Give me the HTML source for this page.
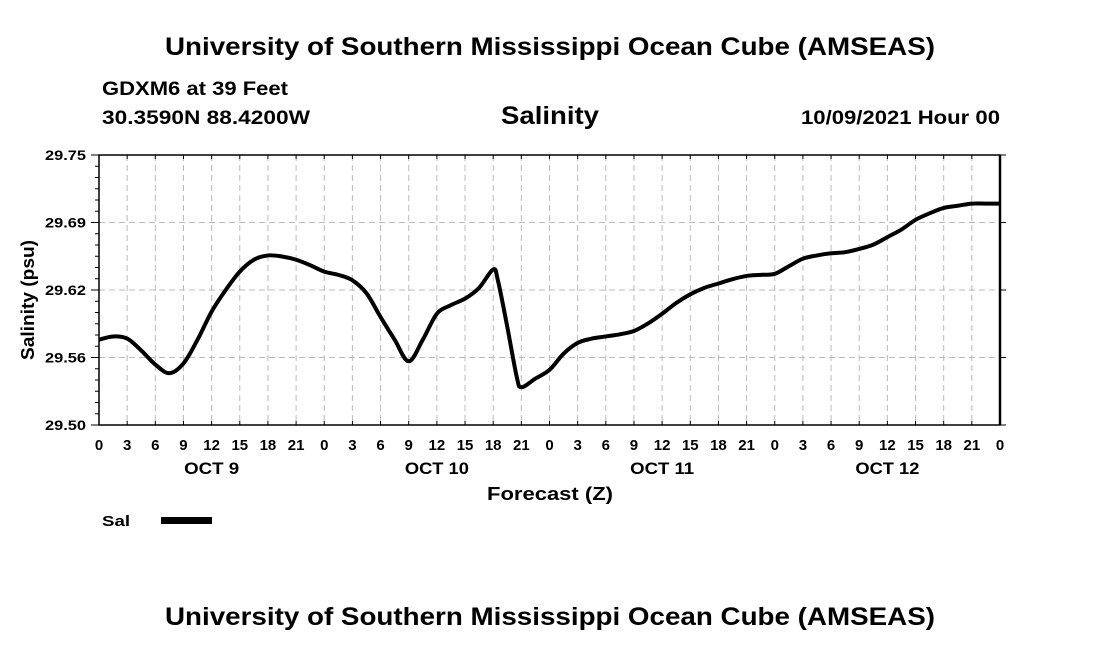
<!DOCTYPE html>
<html><head><meta charset="utf-8"><style>
html,body{margin:0;padding:0;background:#fff;}
svg{display:block;font-family:"Liberation Sans",Arial,sans-serif;font-weight:bold;}
</style></head><body>
<svg id="chart" width="1100" height="650" viewBox="0 0 1100 650">
<text x="550" y="55" font-size="25" text-anchor="middle" textLength="770" lengthAdjust="spacingAndGlyphs">University of Southern Mississippi Ocean Cube (AMSEAS)</text>
<text x="102" y="95" font-size="19" textLength="186" lengthAdjust="spacingAndGlyphs">GDXM6 at 39 Feet</text>
<text x="102" y="124" font-size="19" textLength="208" lengthAdjust="spacingAndGlyphs">30.3590N  88.4200W</text>
<text x="550" y="124" font-size="25" text-anchor="middle" textLength="98" lengthAdjust="spacingAndGlyphs">Salinity</text>
<text x="1000" y="124" font-size="19" text-anchor="end" textLength="199" lengthAdjust="spacingAndGlyphs">10/09/2021 Hour 00</text>
<g id="grid"></g>
<g id="axes"></g>
<path id="line" fill="none" stroke="#000" stroke-width="4" stroke-linejoin="round"></path>
<text x="550" y="500" font-size="18" text-anchor="middle" textLength="126" lengthAdjust="spacingAndGlyphs">Forecast (Z)</text>
<text transform="translate(34,300) rotate(-90)" font-size="18" text-anchor="middle" textLength="120" lengthAdjust="spacingAndGlyphs">Salinity (psu)</text>
<text x="102" y="526" font-size="15" textLength="28" lengthAdjust="spacingAndGlyphs">Sal</text>
<rect x="161" y="517" width="51" height="7" fill="#000"></rect>
<text x="550" y="625" font-size="25" text-anchor="middle" textLength="770" lengthAdjust="spacingAndGlyphs">University of Southern Mississippi Ocean Cube (AMSEAS)</text>
</svg>
<script>
const hours = [0,1.5,3,4.5,6,7.5,9,10.5,12,13.5,15,16.5,18,19.5,21,22.5,24,25.5,27,28.5,30,31.5,33,34.5,36,37.5,39,40.5,42,42.5,43.5,44.5,45,46.5,48,49.5,51,52.5,54,55.5,57,58.5,60,61.5,63,64.5,66,67.5,69,70.5,72,73.5,75,76.5,78,79.5,81,82.5,84,85.5,87,88.5,90,91.5,93,94.5,96];
const salinity = [29.579,29.582,29.580,29.569,29.556,29.548,29.557,29.579,29.605,29.625,29.642,29.653,29.657,29.656,29.653,29.648,29.642,29.639,29.634,29.622,29.600,29.579,29.559,29.579,29.603,29.611,29.617,29.627,29.644,29.634,29.591,29.545,29.535,29.543,29.551,29.566,29.576,29.580,29.582,29.584,29.587,29.594,29.603,29.613,29.621,29.627,29.631,29.635,29.638,29.639,29.640,29.647,29.654,29.657,29.659,29.660,29.663,29.667,29.674,29.681,29.690,29.696,29.701,29.703,29.705,29.705,29.705];
const yTicks = [29.50,29.5625,29.625,29.6875,29.75];
const yTickLabels = ["29.50","29.56","29.62","29.69","29.75"];
const xTickLabels = ["0","3","6","9","12","15","18","21","0","3","6","9","12","15","18","21","0","3","6","9","12","15","18","21","0","3","6","9","12","15","18","21","0"];
const dayLabels = ["OCT 9","OCT 10","OCT 11","OCT 12"];
const dayHours = [12,36,60,84];

const L=99,R=1000,T=155,B=425,ns="http://www.w3.org/2000/svg";
const xS=h=>L+(h/96)*(R-L);
const yS=v=>B-(v-29.5)/0.25*(B-T);
function mk(tag,attrs,parent){const e=document.createElementNS(ns,tag);for(const k in attrs)e.setAttribute(k,attrs[k]);parent.appendChild(e);return e;}
const grid=document.getElementById('grid'),axes=document.getElementById('axes'),svg=document.getElementById('chart');
xTickLabels.forEach((lab,i)=>{
  const x=xS(i*3);
  if(i>0&&i<32){const g=mk('line',{x1:x,x2:x,y1:T,y2:B,stroke:'#bbb','stroke-width':1,'stroke-dasharray':'6,4'},grid);
  
  }
  mk('line',{x1:x,x2:x,y1:T,y2:T+4,stroke:'#000','stroke-width':1},axes);
  mk('line',{x1:x,x2:x,y1:B,y2:B-4,stroke:'#000','stroke-width':1},axes);
  const t=mk('text',{x:x,y:450,'font-size':15,'text-anchor':'middle'},svg);t.textContent=lab;
  
  
});
dayLabels.forEach((d,i)=>{const t=mk('text',{x:xS(dayHours[i]),y:474,'font-size':17,'text-anchor':'middle','textLength':d.length>5?64:55,'lengthAdjust':'spacingAndGlyphs'},svg);t.textContent=d;
  
  });
yTicks.forEach((v,i)=>{
  const y=yS(v);
  if(i>0&&i<yTicks.length-1){const g=mk('line',{x1:L,x2:R,y1:y,y2:y,stroke:'#bbb','stroke-width':1,'stroke-dasharray':'6,4'},grid);
  
  }
  mk('line',{x1:L-8,x2:L,y1:y,y2:y,stroke:'#000','stroke-width':1},axes);
  mk('line',{x1:R,x2:R+6,y1:y,y2:y,stroke:'#000','stroke-width':1},axes);
  const t=mk('text',{x:86,y:y+5,'font-size':14,'text-anchor':'end','textLength':41,'lengthAdjust':'spacingAndGlyphs'},svg);t.textContent=yTickLabels[i];
  
  
});
for(let k=0;k<=24;k++){const y=T+k*(B-T)/24;mk('line',{x1:L-4,x2:L,y1:y,y2:y,stroke:'#000','stroke-width':1},axes);}
mk('rect',{x:L,y:T,width:R-L,height:B-T,fill:'none',stroke:'#000','stroke-width':1.5},axes);
mk('line',{x1:R,x2:R,y1:T,y2:B,stroke:'#000','stroke-width':2.5},axes);
const pts=hours.map((h,i)=>[xS(h),yS(salinity[i])]);
let d='M'+pts[0][0]+','+pts[0][1];
for(let i=0;i<pts.length-1;i++){
  const p0=pts[Math.max(0,i-1)],p1=pts[i],p2=pts[i+1],p3=pts[Math.min(pts.length-1,i+2)];
  const c1=[p1[0]+(p2[0]-p0[0])/6,p1[1]+(p2[1]-p0[1])/6];
  const c2=[p2[0]-(p3[0]-p1[0])/6,p2[1]-(p3[1]-p1[1])/6];
  d+=` C${c1[0]},${c1[1]} ${c2[0]},${c2[1]} ${p2[0]},${p2[1]}`;
}
document.getElementById('line').setAttribute('d',d);
</script>
</body></html>
